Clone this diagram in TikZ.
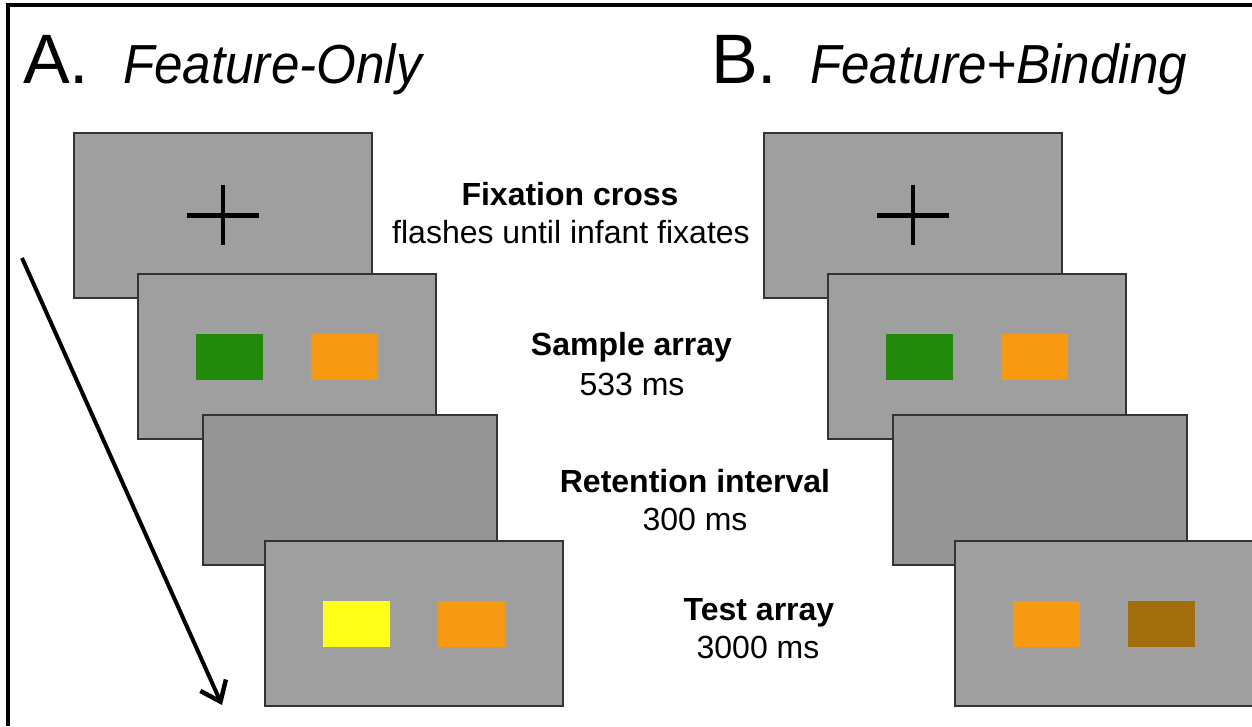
\documentclass[tikz,border=0pt]{standalone}
\usepackage{fontspec}
\setmainfont{Liberation Sans}
\usetikzlibrary{arrows.meta}
\definecolor{screenlight}{HTML}{9F9F9F}
\definecolor{screendark}{HTML}{959595}
\definecolor{itemgreen}{HTML}{228A0B}
\definecolor{itemorange}{HTML}{F79A12}
\definecolor{itemyellow}{HTML}{FFFF17}
\definecolor{itembrown}{HTML}{A26D0C}
\begin{document}
\begin{tikzpicture}[x=1pt,y=-1pt,
  screen/.style={draw=black!80, line width=1.3pt, fill=screenlight,
    minimum width=298pt, minimum height=165pt, inner sep=0pt, outer sep=0pt,
    anchor=north west},
  blankscreen/.style={screen, fill=screendark, minimum width=294pt, minimum height=150pt},
  item/.style={minimum width=67pt, minimum height=46pt, inner sep=0pt, outer sep=0pt},
  crossbar/.style={line width=4.5pt, black},
  headletter/.style={anchor=base west, inner sep=0pt, font=\fontsize{70}{80}\selectfont},
  headword/.style={anchor=base west, inner sep=0pt, font=\fontsize{55}{66}\selectfont\itshape},
  stagename/.style={anchor=base, inner sep=0pt, font=\fontsize{32}{38}\selectfont\bfseries},
  stagetime/.style={anchor=base, inner sep=0pt, font=\fontsize{32}{38}\selectfont},
  timeline/.style={line width=4pt, -{Straight Barb[length=18pt,width=28pt,line width=4.5pt]}}
]
\useasboundingbox (0,0) rectangle (1252,726);
\fill[white] (0,0) rectangle (1252,726);

% frame
\draw[line width=3.2pt] (8,726) -- (8,5) -- (1252,5);

% headings
\node[headletter] (lettA) at (23,83) {A.};
\node[headword] (wordA) at (123,83) {\scalebox{0.93}[1]{Feature-Only}};
\node[headletter] (lettB) at (711,83) {B.};
\node[headword] (wordB) at (810,83) {\scalebox{0.93}[1]{Feature+Binding}};

% panel A screens
\node[screen] (fixA) at (74,133) {};
\draw[crossbar] ([xshift=-36pt]fixA.center) -- ([xshift=36pt]fixA.center);
\draw[crossbar] ([yshift=31pt]fixA.center) -- ([yshift=-29pt]fixA.center);
\node[screen] (smpA) at (138,274) {};
\node[item, fill=itemgreen] (smpA1) at ([xshift=-57.5pt]smpA.center) {};
\node[item, fill=itemorange] (smpA2) at ([xshift=57.5pt]smpA.center) {};
\node[blankscreen] (retA) at (203,415) {};
\node[screen] (tstA) at (265,541) {};
\node[item, fill=itemyellow] (tstA1) at ([xshift=-57.5pt]tstA.center) {};
\node[item, fill=itemorange] (tstA2) at ([xshift=57.5pt]tstA.center) {};

% panel B screens
\node[screen] (fixB) at (764,133) {};
\draw[crossbar] ([xshift=-36pt]fixB.center) -- ([xshift=36pt]fixB.center);
\draw[crossbar] ([yshift=31pt]fixB.center) -- ([yshift=-29pt]fixB.center);
\node[screen] (smpB) at (828,274) {};
\node[item, fill=itemgreen] (smpB1) at ([xshift=-57.5pt]smpB.center) {};
\node[item, fill=itemorange] (smpB2) at ([xshift=57.5pt]smpB.center) {};
\node[blankscreen] (retB) at (893,415) {};
\node[screen] (tstB) at (955,541) {};
\node[item, fill=itemorange] (tstB1) at ([xshift=-57.5pt]tstB.center) {};
\node[item, fill=itembrown] (tstB2) at ([xshift=57.5pt]tstB.center) {};

% stage labels
\node[stagename] (fixName) at (570,205) {Fixation cross};
\node[stagetime] (fixTime) at (571,243) {flashes until infant fixates};
\node[stagename] (smpName) at (631.5,355) {Sample array};
\node[stagetime] (smpTime) at (632,395) {533 ms};
\node[stagename] (retName) at (695,492) {Retention interval};
\node[stagetime] (retTime) at (695,530) {300 ms};
\node[stagename] (tstName) at (759,620) {Test array};
\node[stagetime] (tstTime) at (758,658) {3000 ms};

% time arrow
\coordinate (timeStart) at (22,258);
\coordinate (timeEnd) at (222,705);
\draw[timeline] (timeStart) -- (timeEnd);
\end{tikzpicture}
\end{document}
